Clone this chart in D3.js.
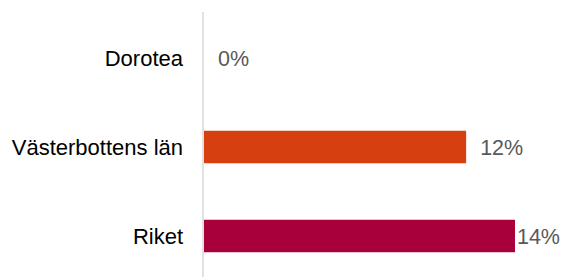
<!DOCTYPE html>
<html><head><meta charset="utf-8">
<script src="https://cdn.jsdelivr.net/npm/d3@7"></script>
<style>body{margin:0;background:#fff}svg{display:block}</style>
</head><body>
<svg id="c" width="563" height="277"></svg>
<script>
const categories = ["Dorotea", "Västerbottens län", "Riket"];
const values = [0, 11.8, 14.0];
const valueLabels = ["0%", "12%", "14%"];
const colors = ["#D63F0F", "#D63F0F", "#A8003A"];

const W = 563, H = 277;
const svg = d3.select("#c");
const x = d3.scaleLinear().domain([0, 14]).range([204, 515]);
const y = d3.scaleBand().domain(categories).range([13.5, 280.5]).paddingInner(0.635).paddingOuter(0.3175);
const font = "Arial, 'Liberation Sans', sans-serif";

svg.selectAll("rect.bar").data(categories).join("rect")
  .attr("class", "bar")
  .attr("x", x(0))
  .attr("y", d => y(d))
  .attr("width", (d, i) => x(values[i]) - x(0))
  .attr("height", y.bandwidth())
  .attr("fill", (d, i) => colors[i]);

svg.append("line").attr("x1", 203).attr("x2", 203).attr("y1", 12).attr("y2", H)
  .attr("stroke", "#d9d9d9").attr("stroke-width", 1.5);

svg.selectAll("text.cat").data(categories).join("text")
  .attr("class", "cat")
  .attr("x", 183)
  .attr("y", d => y(d) + y.bandwidth() / 2 + 7.5)
  .attr("text-anchor", "end")
  .attr("font-family", font).attr("font-size", 22).attr("fill", "#000")
  .text(d => d);

svg.selectAll("text.val").data(categories).join("text")
  .attr("class", "val")
  .attr("x", (d, i) => x(values[i]) + 14)
  .attr("y", d => y(d) + y.bandwidth() / 2 + 7.5)
  .attr("font-family", font).attr("font-size", 21.5).attr("fill", "#595959")
  .text((d, i) => valueLabels[i])
  .each(function () {
    const len = this.getComputedTextLength();
    const xx = +this.getAttribute("x");
    if (xx + len > 560) this.setAttribute("x", 560 - len);
  });
</script>
</body></html>
